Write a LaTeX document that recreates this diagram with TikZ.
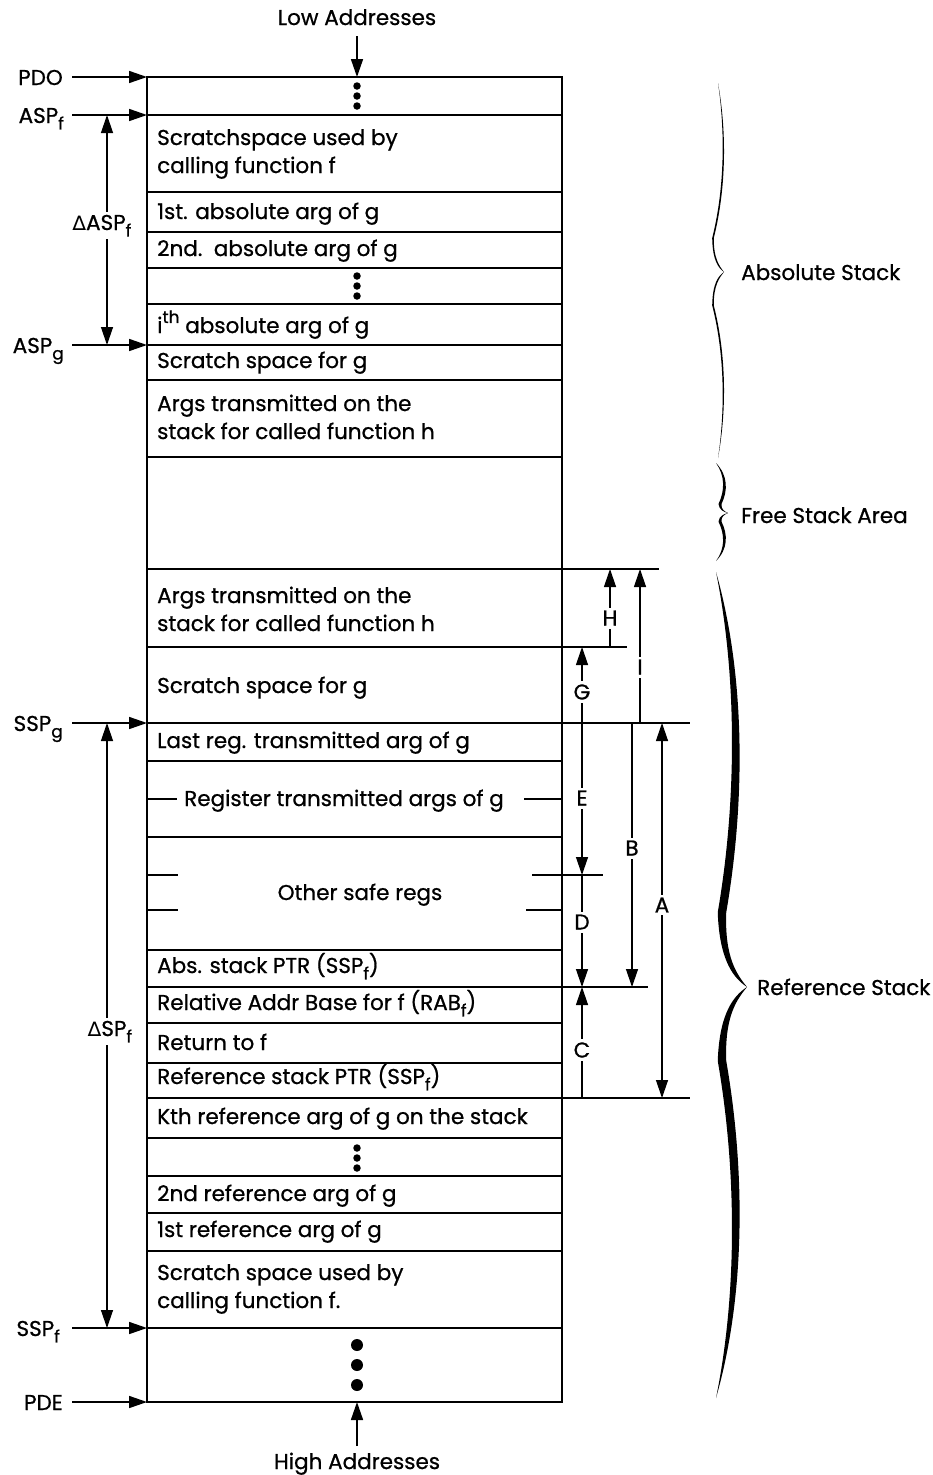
\documentclass[tikz,border=0pt]{standalone}
\usepackage{fontspec}
\setmainfont{Poppins}[FakeBold=0.8]
\newfontfamily\symfont{DejaVu Sans}
\usetikzlibrary{arrows.meta}
\newcommand\mainsize{\fontsize{21.5}{25}\selectfont}
\newcommand\lsub[1]{\raisebox{-0.55ex}{\fontsize{17}{17}\selectfont #1}}
\newcommand\lsup[1]{\raisebox{0.85ex}{\fontsize{17}{17}\selectfont #1}}
\newcommand\dlt{{\symfont\fontsize{20}{20}\selectfont ∆}}
% #1 x0, #2 y1, #3 ym, #4 y2, #5 xb, #6 xr, #7 xt, #8 t
\newcommand\bracefill[8]{%
 \fill ({#1},{#2}) .. controls ({#5+#8},{#2+0.25*(#3-#2)}) and ({#5+#8},{#2+0.55*(#3-#2)}) .. ({#6+0.5*#8},{#3-0.18*(#3-#2)})
   .. controls ({#6+0.3*#8},{#3-0.07*(#3-#2)}) and ({#7-0.4*(#7-#6)},{#3-0.03*(#3-#2)}) .. ({#7},{#3})
   .. controls ({#7-0.4*(#7-#6)},{#3+0.03*(#4-#3)}) and ({#6+0.3*#8},{#3+0.07*(#4-#3)}) .. ({#6+0.5*#8},{#3+0.18*(#4-#3)})
   .. controls ({#5+#8},{#4-0.55*(#4-#3)}) and ({#5+#8},{#4-0.25*(#4-#3)}) .. ({#1},{#4})
   .. controls ({#5},{#4-0.25*(#4-#3)}) and ({#5},{#4-0.55*(#4-#3)}) .. ({#6-0.5*#8},{#3+0.18*(#4-#3)})
   .. controls ({#6-0.3*#8},{#3+0.06*(#4-#3)}) and ({#7-0.5*(#7-#6)},{#3+0.02*(#4-#3)}) .. ({#7},{#3})
   .. controls ({#7-0.5*(#7-#6)},{#3-0.02*(#3-#2)}) and ({#6-0.3*#8},{#3-0.06*(#3-#2)}) .. ({#6-0.5*#8},{#3-0.18*(#3-#2)})
   .. controls ({#5},{#2+0.55*(#3-#2)}) and ({#5},{#2+0.25*(#3-#2)}) .. ({#1},{#2}) -- cycle;}
\tikzset{
  every node/.style={font=\mainsize, inner sep=0pt},
  boxline/.style={line width=1.9pt},
  rowline/.style={line width=1.4pt},
  ptr/.style={line width=1.6pt, -{Triangle[length=18pt,width=12pt]}},
  dimline/.style={line width=1.3pt},
  tipend/.style={-{Triangle[length=18pt,width=12pt]}},
  tipboth/.style={{Triangle[length=18pt,width=12pt]}-{Triangle[length=18pt,width=12pt]}},
  tipstart/.style={{Triangle[length=18pt,width=12pt]}-},
  txt/.style={anchor=base west},
  ctxt/.style={anchor=base},
  lab/.style={anchor=base east},
  dimlab/.style={fill=white, inner sep=3pt},
  dot/.style={circle, fill=black, minimum size=7.5pt},
  bigdot/.style={circle, fill=black, minimum size=12pt},
}
\begin{document}
\begin{tikzpicture}[x=1pt,y=-1pt]
\useasboundingbox (0,0) rectangle (933,1475);
% ---- box and rows
\draw[boxline] (147,77) rectangle (562,1402);
\foreach \yy in {115,192,232,268,304,345,380,457,569,647,723,761,837,950,987,1023,1063,1098,1138,1176,1213,1251,1328}
  \draw[rowline] (147,\yy) -- (562,\yy);
% ticks
\draw[rowline] (147,799) -- (177,799);
\draw[rowline] (524,799) -- (562,799);
\draw[rowline] (147,875) -- (178,875);
\draw[rowline] (147,910) -- (178,910);
\draw[rowline] (526,910) -- (562,910);
% ---- top / bottom address arrows
\node[anchor=base] (low) at (357,25) {Low Addresses};
\coordinate (topc) at (357,77);
\draw[ptr] (357,36) -- (topc);
\node[anchor=base] (high) at (357,1469) {High Addresses};
\coordinate (botc) at (357,1402);
\draw[ptr] (357,1446) -- (botc);
% dots
\foreach \yy in {86,96,106} \node[dot] at (357,\yy) {};
\foreach \yy in {276,286,296} \node[dot] at (357,\yy) {};
\foreach \yy in {1148,1158,1168} \node[dot] at (357,\yy) {};
\foreach \yy in {1345,1365,1385} \node[bigdot] at (357,\yy) {};
% ---- row texts
\node[txt] (t1a) at (157,145) {Scratchspace used by};
\node[txt] (t1b) at (157,173) {calling function f};
\node[txt] (t2) at (157,219) {1st. absolute arg of g};
\node[txt] (t3) at (157,256) {2nd.\ \ absolute arg of g};
\node[txt] (t5) at (157,333) {i\lsup{th} absolute arg of g};
\node[txt] (t6) at (157,368) {Scratch space for g};
\node[txt] (t7a) at (157,411) {Args transmitted on the};
\node[txt] (t7b) at (157,439) {stack for called function h};
\node[txt] (t9a) at (157,603) {Args transmitted on the};
\node[txt] (t9b) at (157,631) {stack for called function h};
\node[txt] (t10) at (157,693) {Scratch space for g};
\node[txt] (t11) at (157,748) {Last reg. transmitted arg of g};
\node[ctxt] (t12) at (344,806) {Register transmitted args of g};
\node[ctxt] (t13) at (360,900) {Other safe regs};
\node[txt] (t14) at (157,973) {Abs. stack PTR (SSP\lsub{f})};
\node[txt] (t15) at (157,1010) {Relative Addr Base for f (RAB\lsub{f})};
\node[txt] (t16) at (157,1050) {Return to f};
\node[txt] (t17) at (157,1084) {Reference stack PTR (SSP\lsub{f})};
\node[txt] (t18) at (157,1124) {Kth reference arg of g on the stack};
\node[txt] (t20) at (157,1201) {2nd reference arg of g};
\node[txt] (t21) at (157,1237) {1st reference arg of g};
\node[txt] (t22a) at (157,1280) {Scratch space used by};
\node[txt] (t22b) at (157,1308) {calling function f.};
% ---- left pointers
\node[lab] (PDO) at (63,85) {PDO};
\node[lab] (ASPf) at (64,123) {ASP\lsub{f}};
\node[lab] (ASPg) at (64,353) {ASP\lsub{g}};
\node[lab] (SSPg) at (63,731) {SSP\lsub{g}};
\node[lab] (SSPf) at (60,1336) {SSP\lsub{f}};
\node[lab] (PDE) at (63,1410) {PDE};
\coordinate (bPDO) at (147,77);
\coordinate (bASPf) at (147,115);
\coordinate (bASPg) at (147,345);
\coordinate (bSSPg) at (147,723);
\coordinate (bSSPf) at (147,1328);
\coordinate (bPDE) at (147,1402);
\draw[ptr] (72,77) -- (bPDO);
\draw[ptr] (72,115) -- (bASPf);
\draw[ptr] (72,345) -- (bASPg);
\draw[ptr] (72,723) -- (bSSPg);
\draw[ptr] (72,1328) -- (bSSPf);
\draw[ptr] (72,1402) -- (bPDE);
% delta arrows
\coordinate (dA1) at (107,115);
\coordinate (dA2) at (107,345);
\draw[dimline,tipboth] (dA1) -- (dA2);
\node[dimlab,anchor=base] (dASP) at (102,230) {\dlt ASP\lsub{f}};
\coordinate (dS1) at (107,723);
\coordinate (dS2) at (107,1328);
\draw[dimline,tipboth] (dS1) -- (dS2);
\node[dimlab,anchor=base] (dSP) at (110,1036) {\dlt SP\lsub{f}};
% ---- right dimension lines
\draw[rowline] (562,569) -- (659,569);
\draw[rowline] (562,647) -- (627,647);
\draw[rowline] (562,723) -- (690,723);
\draw[rowline] (532,875) -- (603,875);
\draw[rowline] (562,987) -- (648,987);
\draw[rowline] (562,1098) -- (690,1098);
\coordinate (H1) at (610,569); \coordinate (H2) at (610,647);
\draw[dimline,tipstart] (H1) -- (H2);
\node[dimlab] (Hl) at (610,618) {H};
\coordinate (I1) at (640,569); \coordinate (I2) at (640,723);
\draw[dimline,tipstart] (I1) -- (I2);
\node[dimlab] (Il) at (640,667) {I};
\coordinate (G1) at (582,647); \coordinate (E2) at (582,875);
\draw[dimline,tipboth] (G1) -- (E2);
\node[dimlab] (Gl) at (582,692) {G};
\node[dimlab] (El) at (582,798) {E};
\coordinate (B1) at (632,723); \coordinate (B2) at (632,987);
\draw[dimline,tipend] (B1) -- (B2);
\node[dimlab] (Bl) at (632,848) {B};
\coordinate (A1) at (662,723); \coordinate (A2) at (662,1098);
\draw[dimline,tipboth] (A1) -- (A2);
\node[dimlab] (Al) at (662,905) {A};
\coordinate (D1) at (582,875); \coordinate (D2) at (582,987);
\draw[dimline,tipend] (D1) -- (D2);
\node[dimlab] (Dl) at (582,922) {D};
\coordinate (C1) at (582,987); \coordinate (C2) at (582,1098);
\draw[dimline,tipstart] (C1) -- (C2);
\node[dimlab] (Cl) at (582,1050) {C};
% ---- braces
\bracefill{718}{83}{272}{458}{725}{713}{724}{1.6}
\bracefill{716}{463}{513}{561}{725}{720}{728}{3}
\bracefill{716}{572}{987}{1398}{737}{722}{747}{8.5}
\node[anchor=base west] (abs) at (741,280) {Absolute Stack};
\node[anchor=base west] (free) at (741,523) {Free Stack Area};
\node[anchor=base west] (ref) at (757,995) {Reference Stack};
\end{tikzpicture}
\end{document}
